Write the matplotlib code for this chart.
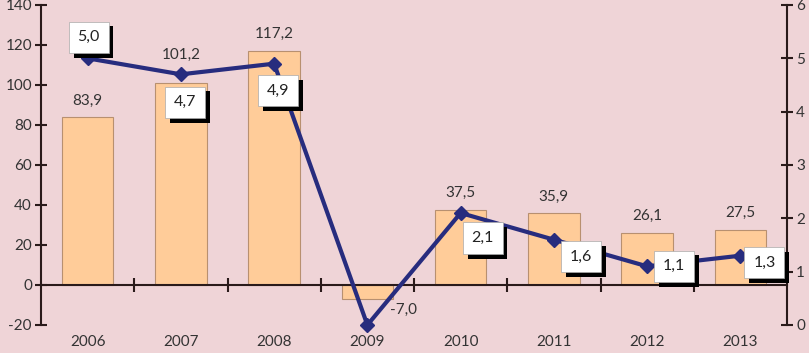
import matplotlib.pyplot as plt
import matplotlib.patheffects as pe
from matplotlib.transforms import blended_transform_factory

years = ["2006", "2007", "2008", "2009", "2010", "2011", "2012", "2013"]
bar_values = [83.9, 101.2, 117.2, -7.0, 37.5, 35.9, 26.1, 27.5]
line_values = [5.0, 4.7, 4.9, 0.0, 2.1, 1.6, 1.1, 1.3]
line_labels = ["5,0", "4,7", "4,9", None, "2,1", "1,6", "1,1", "1,3"]

bg = "#EFD4D7"
bar_color = "#FFCC99"
bar_edge = "#B89070"
line_color = "#272C7E"
axis_color = "#2A1A1A"

plt.rcParams["font.family"] = ["Lato", "DejaVu Sans"]
plt.rcParams["axes.unicode_minus"] = False

fig = plt.figure(figsize=(8.09, 3.53), dpi=100)
fig.patch.set_facecolor(bg)
ax = fig.add_axes([41 / 809, 28 / 353, 746 / 809, 320 / 353])
ax.set_facecolor(bg)

x = list(range(len(years)))

# bars (left axis)
ax.bar(x, bar_values, width=0.55, color=bar_color, edgecolor=bar_edge, linewidth=0.8, zorder=2)
ax.set_xlim(-0.5, len(years) - 0.5)
ax.set_ylim(-20, 140)
ax.set_yticks(range(-20, 141, 20))
ax.tick_params(axis="y", direction="inout", length=9, width=1.5, colors=axis_color,
               labelsize=11, labelcolor="#333333", pad=2)

for s in ["top", "right"]:
    ax.spines[s].set_visible(False)
ax.spines["left"].set_color(axis_color)
ax.spines["left"].set_linewidth(1.5)
ax.spines["bottom"].set_position(("data", 0))
ax.spines["bottom"].set_color(axis_color)
ax.spines["bottom"].set_linewidth(1.5)
ax.set_xticks([i + 0.5 for i in range(len(years) - 1)])
ax.set_xticklabels([])
ax.tick_params(axis="x", direction="inout", length=10, width=1.5, colors=axis_color)

# category labels below the plot
trans = blended_transform_factory(ax.transData, ax.transAxes)
for i, yr in enumerate(years):
    ax.text(i, -0.03, yr, transform=trans, ha="center", va="top", fontsize=11, color="#333333")

# bar value labels (2007 pushed up above the line)
for i, v in enumerate(bar_values):
    lbl = f"{v:.1f}".replace(".", ",")
    if v >= 0:
        dy = 15 if i == 1 else 7
        ax.annotate(lbl, (i, v), xytext=(0, dy), textcoords="offset points",
                    ha="center", va="bottom", fontsize=11, color="#333333", zorder=3)
    else:
        ax.annotate(lbl, (i, v), xytext=(26, -3), textcoords="offset points",
                    ha="center", va="top", fontsize=11, color="#333333", zorder=3)

# line (right axis)
ax2 = ax.twinx()
ax2.set_ylim(0, 6)
ax2.set_yticks(range(0, 7))
ax2.plot(x, line_values, color=line_color, linewidth=3, marker="D", markersize=7, zorder=4,
         clip_on=False)
for s in ["top", "left", "bottom"]:
    ax2.spines[s].set_visible(False)
ax2.spines["right"].set_color(axis_color)
ax2.spines["right"].set_linewidth(1.5)
ax2.tick_params(axis="y", direction="inout", length=9, width=1.5, colors=axis_color,
                labelsize=11, labelcolor="#333333", pad=2)

# boxed labels with shadow, offsets in pixels (dx, dy) from point
offsets = [(1, 21), (4, -28), (4, -27), None, (22, -25), (27, -17), (27, 0), (24, -7)]
for i, lbl in enumerate(line_labels):
    if lbl is None:
        continue
    dx, dy = offsets[i]
    t = ax2.annotate(lbl, (i, line_values[i]), xytext=(dx * 0.72, dy * 0.72),
                     textcoords="offset points", ha="center", va="center",
                     fontsize=11.5, color="#222222", zorder=6,
                     bbox=dict(boxstyle="square,pad=0.55", fc="white", ec="#aaaaaa", lw=0.5))
    t.get_bbox_patch().set_path_effects([
        pe.SimplePatchShadow(offset=(3.5, -3.5), shadow_rgbFace="black", alpha=1.0),
        pe.Normal(),
    ])

fig.savefig("out.png", dpi=100, facecolor=bg)
